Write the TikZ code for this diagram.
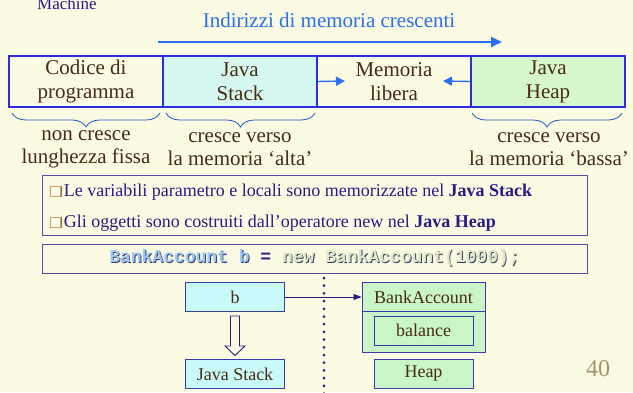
\documentclass[tikz,border=0pt]{standalone}
\usepackage{fontspec}
\setmainfont{Liberation Serif}
\setmonofont{Liberation Mono}
\usetikzlibrary{arrows.meta,decorations.pathreplacing,calc}
\definecolor{bgcol}{HTML}{FBFBE3}
\definecolor{navy}{HTML}{2A1A88}
\definecolor{titleblue}{HTML}{2A6FF0}
\definecolor{memblue}{HTML}{2D2DE0}
\definecolor{textbrown}{HTML}{472C10}
\definecolor{stackfill}{HTML}{D6F6F0}
\definecolor{heapfill}{HTML}{D6F6CE}
\definecolor{cellborder}{HTML}{3A3AA8}
\definecolor{cellcyan}{HTML}{C8FAFA}
\definecolor{cellgreen}{HTML}{CAF5C8}
\definecolor{bullettan}{HTML}{D0A060}
\definecolor{bulletshadow}{HTML}{9A7040}
\definecolor{infoborder}{HTML}{5A4AA8}
\definecolor{codeblue}{HTML}{9CC8F4}
\definecolor{codegreen}{HTML}{DCEAC4}
\definecolor{codeshadow}{HTML}{3A3A6A}
\definecolor{pagetan}{HTML}{A89070}
\newcommand{\sqbullet}{{\setlength{\fboxsep}{0pt}\setlength{\fboxrule}{1.1pt}%
  \makebox[0pt][l]{\kern1.2pt\raisebox{-0.7pt}{\textcolor{bulletshadow}{\rule{10.7pt}{10.7pt}}}}%
  \raisebox{0.5pt}{\fcolorbox{bullettan}{bgcol!60!white}{\rule{0pt}{8.5pt}\rule{8.5pt}{0pt}}}}\hspace{3pt}}
\newcommand{\shadowed}[2]{\makebox[0pt][l]{\kern0.9pt\raisebox{-0.9pt}{\textcolor{codeshadow}{#2}}}\textcolor{#1}{#2}}

\begin{document}
\begin{tikzpicture}
  [x=1pt,y=-1pt,every node/.style={inner sep=0pt,text=textbrown},
   membox/.style={draw=memblue,line width=1.2pt,minimum width=154pt,minimum height=51pt,
     align=center,font=\fontsize{21}{24}\selectfont},
   growtext/.style={align=center,font=\fontsize{21}{23}\selectfont},
   curlybrace/.style={decorate,decoration={brace,mirror,amplitude=14pt},draw=titleblue!80!black,line width=0.8pt},
   cell/.style={draw=cellborder,line width=0.9pt,minimum width=99pt,minimum height=29pt,font=\fontsize{18}{20}\selectfont},
   ruletext/.style={anchor=base west,text=navy,font=\fontsize{18}{20}\selectfont},
   ptr/.style={draw=navy,line width=0.7pt,-{Triangle[length=8pt,width=6pt]}}]
  \fill[bgcol] (0,0) rectangle (633,392);
  \useasboundingbox (0,0) rectangle (633,392);

  % heading
  \node[anchor=base west,text=navy,font=\fontsize{17}{19}\selectfont] (mach) at (37,9) {Machine};
  \node[anchor=base,text=titleblue,font=\fontsize{21}{24}\selectfont] (title) at (329,27) {Indirizzi di memoria crescenti};
  \coordinate (addrA) at (158,42);
  \coordinate (addrB) at (502,42);
  \draw[titleblue,line width=1.8pt,-{Triangle[length=11pt,width=10pt]}] (addrA) -- (addrB);

  % memory layout
  \node[membox] (code) at (86,81.5) {Codice di\\programma};
  \node[membox,fill=stackfill] (stack) at (240,81.5) {Java\\Stack};
  \node[membox] (free) at (394,81.5) {Memoria\\libera};
  \node[membox,fill=heapfill] (heap) at (548,81.5) {Java\\Heap};
  \coordinate (growS) at (345,81);
  \coordinate (growH) at (443,81);
  \draw[titleblue,line width=1.4pt,-{Triangle[length=9pt,width=9pt]}] (stack.east) -- (growS);
  \draw[titleblue,line width=1.4pt,-{Triangle[length=9pt,width=9pt]}] (heap.west) -- (growH);

  % braces
  \draw[curlybrace] (12,113) -- (160,113);
  \draw[curlybrace] (166,113) -- (315,113);
  \draw[curlybrace] (472,113) -- (622,113);
  \node[growtext] (codenote) at (86,149) {non cresce\\lunghezza fissa};
  \node[growtext] (stacknote) at (240,149) {cresce verso\\la memoria ‘alta’};
  \node[growtext] (heapnote) at (549,149) {cresce verso\\la memoria ‘bassa’};

  % notes
  \node[draw=infoborder,line width=1pt,minimum width=545pt,minimum height=60pt] (info) at (314.5,205) {};
  \node[ruletext] (rule1) at (50,196) {\sqbullet Le variabili parametro e locali sono memorizzate nel \textbf{Java Stack}};
  \node[ruletext] (rule2) at (50,227) {\sqbullet Gli oggetti sono costruiti dall’operatore new nel \textbf{Java Heap}};
  \node[draw=infoborder,line width=1pt,minimum width=545pt,minimum height=29pt,
    font=\ttfamily\bfseries\fontsize{18}{20}\selectfont] (stmt) at (314.5,258.5)
    {\shadowed{codeblue}{BankAccount b} \textcolor{navy}{=} \shadowed{codegreen}{new BankAccount(1000);}};

  % stack and heap
  \node[cell,fill=cellcyan] (bvar) at (235,297) {b};
  \node[cell,fill=cellcyan] (jstack) at (235,374) {Java Stack};
  \node[draw=cellborder,line width=0.9pt,fill=cellgreen,minimum width=123pt,minimum height=70pt] (obj) at (423.5,317) {};
  \node[font=\fontsize{18}{20}\selectfont] (objname) at (423.5,297) {BankAccount};
  \draw[cellborder,line width=0.9pt] (obj.west |- 0,311) -- (obj.east |- 0,311);
  \node[cell,fill=cellgreen] (field) at (423.5,330.5) {balance};
  \node[cell,fill=cellgreen] (jheap) at (423.5,373.5) {Heap};
  \draw[ptr] (bvar.east) -- (bvar.east -| obj.west);
  \draw[draw=navy,line width=0.9pt,fill=bgcol]
    ($(bvar.south)+(-4.5,4)$) -- ($(bvar.south)+(4.5,4)$) -- ($(bvar.south)+(4.5,34)$)
    -- ($(bvar.south)+(10,34)$) -- ($(jstack.north)+(0,-3.5)$) -- ($(bvar.south)+(-10,34)$)
    -- ($(bvar.south)+(-4.5,34)$) -- cycle;
  \coordinate (divtop) at (324,278);
  \coordinate (divbot) at (324,396);
  \draw[navy,line width=3pt,line cap=round,dash pattern=on 0pt off 7.7pt] (divtop) -- (divbot);

  \node[anchor=base,text=pagetan,font=\fontsize{24}{24}\selectfont] (pagenum) at (598,376) {40};
\end{tikzpicture}
\end{document}
